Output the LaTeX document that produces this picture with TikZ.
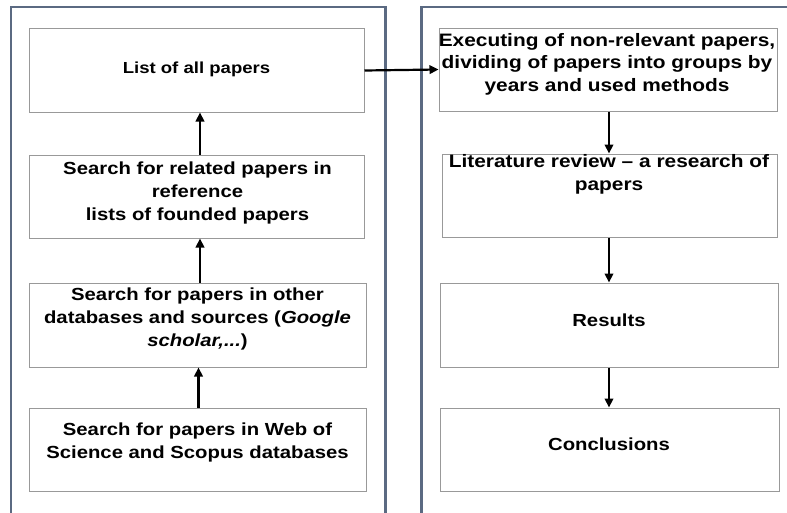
\documentclass[tikz,border=0pt]{standalone}
\usepackage{fontspec}
\newfontfamily\boxfont{Liberation Sans}[FakeStretch=1.16]
\usetikzlibrary{arrows.meta}
\definecolor{panelc}{HTML}{5B6A82}
\definecolor{boxc}{HTML}{999999}
\tikzset{
  panel/.style={draw=panelc, line width=2.6pt},
  stage/.style={draw=boxc, line width=1pt, fill=white, inner sep=0pt},
  lbl/.style={align=center, inner sep=0pt,
    font=\boxfont\bfseries\fontsize{17.5}{23}\selectfont},
  biglbl/.style={lbl, font=\boxfont\bfseries\fontsize{18}{22.5}\selectfont},
  flow/.style={line width=2.2pt, -{Triangle[length=9pt,width=8.5pt]}},
}
\begin{document}
\begin{tikzpicture}[x=1pt, y=-1pt]
\useasboundingbox (0,0) rectangle (787,512);
\clip (0,0) rectangle (787,512);

% two column frames, open at the bottom and on the far right
\draw[panel] (11,530) -- (11,7) -- (385.5,7) -- (385.5,530);
\draw[panel] (421.5,530) -- (421.5,7) -- (810,7);

% left column: collecting papers
\node[stage, minimum width=335pt, minimum height=84pt] (l1) at (196.5,70) {};
\node[stage, minimum width=335pt, minimum height=83pt] (l2) at (196.5,196.5) {};
\node[stage, minimum width=337pt, minimum height=84pt] (l3) at (197.5,325) {};
\node[stage, minimum width=337pt, minimum height=83pt] (l4) at (197.5,449.5) {};

\node[lbl, font=\boxfont\bfseries\fontsize{16}{20}\selectfont] (l1t) at (196.5,69) {List of all papers};
\node[lbl] (l2t) at (197.5,192.5) {Search for related papers in\\reference\\lists of founded papers};
\node[lbl] (l3t) at (197.5,318.5) {Search for papers in other\\databases and sources (\textit{Google}\\\textit{scholar,...})};
\node[lbl] (l4t) at (197.5,442) {Search for papers in Web of\\Science and Scopus databases};

% right column: processing papers
\node[stage, minimum width=338pt, minimum height=83pt] (r1) at (608,69.5) {};
\node[stage, minimum width=335pt, minimum height=83pt] (r2) at (609.5,195.5) {};
\node[stage, minimum width=338pt, minimum height=84pt] (r3) at (609,325) {};
\node[stage, minimum width=339pt, minimum height=83pt] (r4) at (609.5,449.5) {};

\node[biglbl] (r1t) at (607,64) {Executing of non-relevant papers,\\dividing of papers into groups by\\years and used methods};
\node[biglbl] (r2t) at (609,174.5) {Literature review \textendash{} a research of\\papers};
\node[lbl] (r3t) at (609,320) {Results};
\node[lbl] (r4t) at (609,444) {Conclusions};

% connectors
\draw[flow] ([xshift=1pt]l4.north) -- ([xshift=1pt]l3.south);
\draw[flow] ([xshift=2.5pt]l3.north) -- ([xshift=3.5pt]l2.south);
\draw[flow] ([xshift=3.5pt]l2.north) -- ([xshift=3.5pt]l1.south);
\draw[flow] ([yshift=-0.5pt]l1.east) -- ([yshift=0pt]r1.west);
\draw[flow] (r1.south -| 609,0) -- (r2.north -| 609,0);
\draw[flow] (r2.south -| 609,0) -- (r3.north -| 609,0);
\draw[flow] (r3.south -| 609,0) -- (r4.north -| 609,0);
\end{tikzpicture}
\end{document}
